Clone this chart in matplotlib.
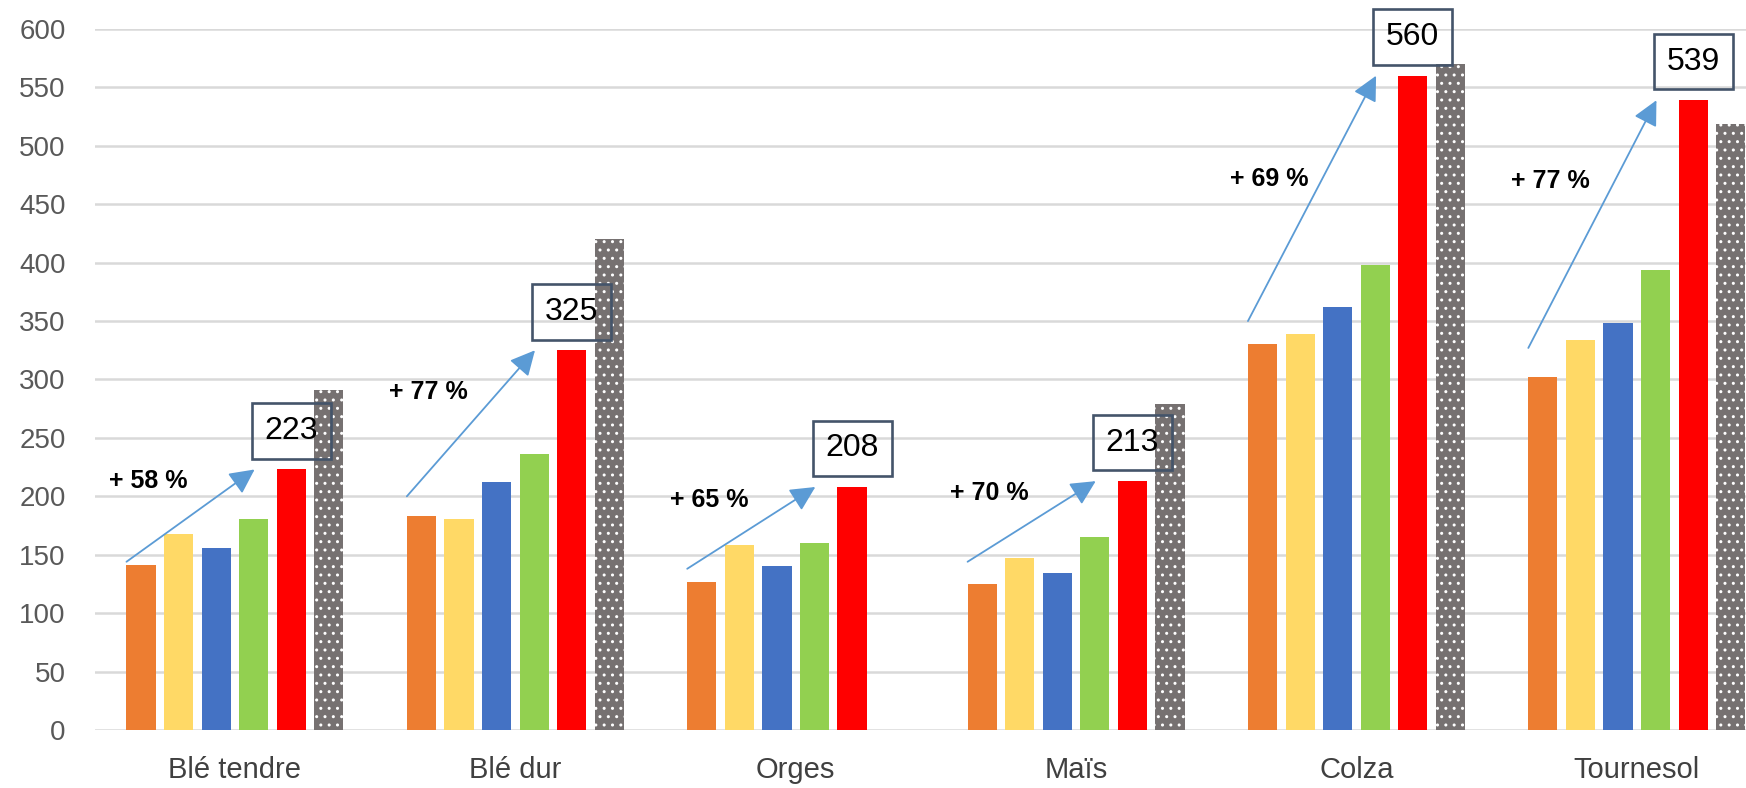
import numpy as np
import matplotlib
matplotlib.use('Agg')
import matplotlib.pyplot as plt

plt.rcParams['font.family'] = ['Liberation Sans', 'DejaVu Sans']
plt.rcParams['hatch.linewidth'] = 1.0

categories = ['Blé tendre', 'Blé dur', 'Orges', 'Maïs', 'Colza', 'Tournesol']
serie_orange = [141, 183, 127, 125, 330, 302]
serie_jaune = [168, 181, 158, 147, 339, 334]
serie_bleu = [156, 212, 140, 134, 362, 348]
serie_vert = [181, 236, 160, 165, 398, 394]
serie_rouge = [223, 325, 208, 213, 560, 539]
serie_gris = [291, 420, np.nan, 279, 570, 519]
hausse = ['+ 58 %', '+ 77 %', '+ 65 %', '+ 70 %', '+ 69 %', '+ 77 %']

# placement of the "+ xx %" labels and arrow starts (layout only)
pct_y = [213, 289, 197, 203, 472, 470]
arrow_start_y = [144, 200, 138, 144, 350, 327]

colors = ['#ED7D31', '#FFD966', '#4472C4', '#92D050', '#FF0000', '#767171']
series = [serie_orange, serie_jaune, serie_bleu, serie_vert, serie_rouge, serie_gris]

W, H = 1746, 788
fig = plt.figure(figsize=(W / 100, H / 100), dpi=100)
left = 94.8 / W
right = 1777 / W
ax = fig.add_axes([left, 58 / H, right - left, (759 - 58) / H])

x = np.arange(len(categories))
pitch = 0.134
bw = 0.104
for j, (vals, c) in enumerate(zip(series, colors)):
    pos = x + (j - 2.5) * pitch
    if j == 5:
        ax.bar(pos, vals, width=bw, color=c, edgecolor='white', linewidth=0,
               hatch='..', zorder=3)
    else:
        ax.bar(pos, vals, width=bw, color=c, linewidth=0, zorder=3)

red_x = x + 1.5 * pitch
for i in range(len(categories)):
    x0 = i - 2.5 * pitch - bw / 2
    ax.annotate('', xy=(i + 0.07, serie_rouge[i]), xytext=(x0, arrow_start_y[i]),
                arrowprops=dict(arrowstyle='-|>,head_length=0.4,head_width=0.2',
                                mutation_scale=38, lw=1.3, color='#5B9BD5',
                                shrinkA=0, shrinkB=0),
                zorder=5, annotation_clip=False)
    ax.text(i - 0.31, pct_y[i], hausse[i], fontsize=18, fontweight='bold',
            color='black', ha='center', va='center', zorder=6)
    ax.text(red_x[i], serie_rouge[i] + 33, str(serie_rouge[i]), fontsize=23,
            color='black', ha='center', va='center', zorder=6, clip_on=False,
            bbox=dict(boxstyle='square,pad=0.4', fc='none', ec='#44546A', lw=1.9))

ax.set_xlim(-0.5, 5.5)
ax.set_ylim(0, 600)
ax.set_yticks(np.arange(0, 601, 50))
ax.set_xticks(x)
ax.set_xticklabels(categories, fontsize=21, color='#404040')
ax.tick_params(axis='y', labelsize=20, labelcolor='#595959', length=0, pad=21)
ax.tick_params(axis='x', length=0, pad=19)
ax.grid(axis='y', color='#D9D9D9', lw=1.8)
ax.set_axisbelow(True)
for s in ax.spines.values():
    s.set_visible(False)

fig.savefig('out.png', dpi=100)
